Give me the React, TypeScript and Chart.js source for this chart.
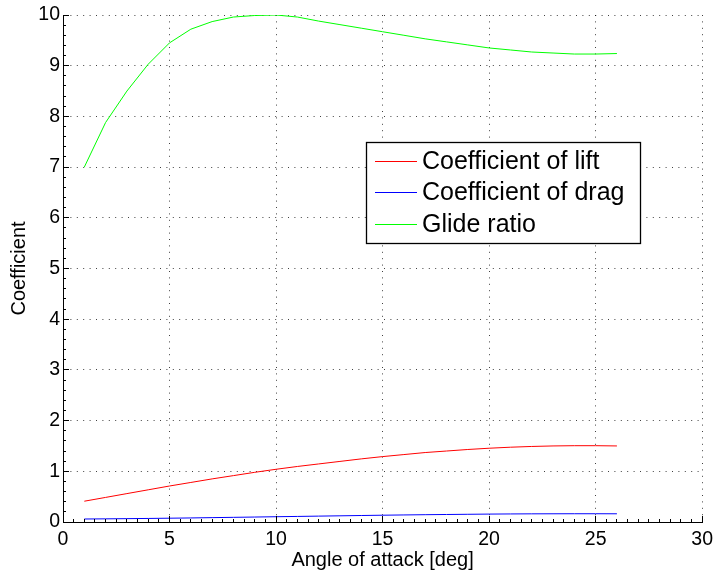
import { useEffect, useRef } from "react";
import { Chart, registerables } from "chart.js";

Chart.register(...registerables);

const FONT = '"Liberation Sans", Arial, Helvetica, sans-serif';

// Wing polar: angle of attack [deg] against lift, drag and lift/drag
const angleOfAttack = [
  1, 2, 3, 4, 5, 6, 7, 8, 9, 10, 11, 12, 13, 14, 15, 16, 17, 18, 19, 20, 21, 22, 23, 24, 25, 26,
];
const liftCoefficient = [
  0.41, 0.485, 0.56, 0.635, 0.71, 0.78, 0.85, 0.915, 0.98, 1.04, 1.095, 1.145, 1.195,
  1.245, 1.29, 1.33, 1.37, 1.4, 1.43, 1.455, 1.475, 1.49, 1.5, 1.505, 1.505, 1.5,
];
const dragCoefficient = [
  0.059, 0.062, 0.066, 0.07, 0.075, 0.08, 0.086, 0.092, 0.098, 0.104, 0.11, 0.116, 0.122,
  0.128, 0.134, 0.139, 0.144, 0.148, 0.152, 0.156, 0.159, 0.161, 0.162, 0.163, 0.163, 0.162,
];
const glideRatio = [
  7.0, 7.88, 8.5, 9.03, 9.45, 9.72, 9.87, 9.96, 9.99, 10.0, 9.96, 9.88, 9.81, 9.74, 9.67,
  9.6, 9.53, 9.47, 9.41, 9.35, 9.31, 9.27, 9.25, 9.23, 9.23, 9.24,
];

const seriesLabels = ["Coefficient of lift", "Coefficient of drag", "Glide ratio"];
const seriesColors = ["#ff0000", "#0000ff", "#00ff00"];

const xTickValues = [0, 5, 10, 15, 20, 25, 30];
const yTickValues = [0, 1, 2, 3, 4, 5, 6, 7, 8, 9, 10];
const xMinorStep = 0.5;
const yMinorStep = 0.2;

const xTitle = "Angle of attack [deg]";
const yTitle = "Coefficient";

const align = (p: number) => Math.round(p - 0.5) + 0.5;

// Inward major/minor tick marks on the left and bottom axes
const inwardTicks = {
  id: "inwardTicks",
  afterDatasetsDraw(chart: any) {
    const { ctx, chartArea, scales } = chart;
    const xs = scales.x;
    const ys = scales.y;
    ctx.save();
    ctx.strokeStyle = "#000";
    ctx.lineWidth = 1;
    ctx.beginPath();
    const xMin = xTickValues[0];
    const xMax = xTickValues[xTickValues.length - 1];
    const xStep = xTickValues[1] - xTickValues[0];
    const nx = Math.round((xMax - xMin) / xMinorStep);
    for (let i = 0; i <= nx; i++) {
      const v = xMin + i * xMinorStep;
      const major = Math.abs(v / xStep - Math.round(v / xStep)) < 1e-6;
      const len = major ? 6 : 3;
      const px = align(xs.getPixelForValue(v));
      ctx.moveTo(px, chartArea.bottom);
      ctx.lineTo(px, chartArea.bottom - len);
    }
    const yMin = yTickValues[0];
    const yMax = yTickValues[yTickValues.length - 1];
    const yStep = yTickValues[1] - yTickValues[0];
    const ny = Math.round((yMax - yMin) / yMinorStep);
    for (let i = 0; i <= ny; i++) {
      const v = yMin + i * yMinorStep;
      const major = Math.abs(v / yStep - Math.round(v / yStep)) < 1e-6;
      const len = major ? 6 : 3;
      const py = align(ys.getPixelForValue(v));
      ctx.moveTo(chartArea.left, py);
      ctx.lineTo(chartArea.left + len, py);
    }
    ctx.stroke();
    ctx.restore();
  },
};

// Boxed legend sitting inside the plot area
const boxedLegend = {
  id: "boxedLegend",
  afterDatasetsDraw(chart: any) {
    const { ctx } = chart;
    const left = 366;
    const top = 142;
    const width = 274;
    const height = 101;
    const rowY = [161, 192.5, 224.5];
    ctx.save();
    ctx.fillStyle = "#ffffff";
    ctx.fillRect(left, top, width, height);
    ctx.strokeStyle = "#000000";
    ctx.lineWidth = 1.3;
    ctx.strokeRect(left + 0.5, top + 0.5, width, height);
    ctx.font = `25px ${FONT}`;
    ctx.textAlign = "left";
    ctx.textBaseline = "middle";
    chart.data.datasets.forEach((ds: any, i: number) => {
      const y = rowY[i];
      ctx.strokeStyle = ds.borderColor;
      ctx.lineWidth = 1;
      ctx.beginPath();
      ctx.moveTo(375, Math.floor(y) + 0.5);
      ctx.lineTo(417, Math.floor(y) + 0.5);
      ctx.stroke();
      ctx.fillStyle = "#000000";
      ctx.fillText(ds.label, 422, y + 1);
    });
    ctx.restore();
  },
};

export default function App() {
  const canvasRef = useRef<HTMLCanvasElement | null>(null);

  useEffect(() => {
    document.body.style.margin = "0";
    const canvas = canvasRef.current;
    if (!canvas) return;

    const series = [liftCoefficient, dragCoefficient, glideRatio];
    const datasets = series.map((values, i) => ({
      label: seriesLabels[i],
      data: angleOfAttack.map((a, j) => ({ x: a, y: values[j] })),
      borderColor: seriesColors[i],
      backgroundColor: seriesColors[i],
      borderWidth: 1,
      pointRadius: 0,
      tension: 0,
      fill: false,
    }));

    const gridStyle = {
      color: "rgba(0,0,0,0.75)",
      lineWidth: 1,
      drawTicks: false,
    };

    const chart = new Chart(canvas, {
      type: "line",
      data: { datasets },
      options: {
        animation: false,
        responsive: false,
        maintainAspectRatio: false,
        layout: { padding: { top: 15, right: 13, left: 0, bottom: 0 } },
        plugins: {
          legend: { display: false },
          tooltip: { enabled: false },
        },
        scales: {
          x: {
            type: "linear",
            min: xTickValues[0],
            max: xTickValues[xTickValues.length - 1],
            afterBuildTicks: (scale: any) => {
              scale.ticks = xTickValues.map((v) => ({ value: v }));
            },
            grid: gridStyle,
            border: { display: true, color: "#000", width: 1, dash: [1, 5.4] },
            ticks: {
              color: "#000",
              padding: 6,
              font: { family: FONT, size: 19.5 },
              maxRotation: 0,
            },
            title: {
              display: true,
              text: xTitle,
              color: "#000",
              font: { family: FONT, size: 20 },
              padding: { top: 0, bottom: 1.5 },
            },
            afterFit: (scale: any) => {
              scale.height = 52;
            },
          },
          y: {
            type: "linear",
            min: yTickValues[0],
            max: yTickValues[yTickValues.length - 1],
            afterBuildTicks: (scale: any) => {
              scale.ticks = yTickValues.map((v) => ({ value: v }));
            },
            grid: gridStyle,
            border: { display: true, color: "#000", width: 1, dash: [1, 5.4] },
            ticks: {
              color: "#000",
              padding: 3,
              font: { family: FONT, size: 19.5 },
            },
            title: {
              display: true,
              text: yTitle,
              color: "#000",
              font: { family: FONT, size: 20 },
              padding: { top: 7, bottom: 0 },
            },
            afterFit: (scale: any) => {
              scale.width = 63;
            },
          },
        },
      } as any,
      plugins: [inwardTicks, boxedLegend],
    });

    return () => chart.destroy();
  }, []);

  return (
    <div style={{ width: 719, height: 574 }}>
      <canvas ref={canvasRef} width={719} height={574} />
    </div>
  );
}
